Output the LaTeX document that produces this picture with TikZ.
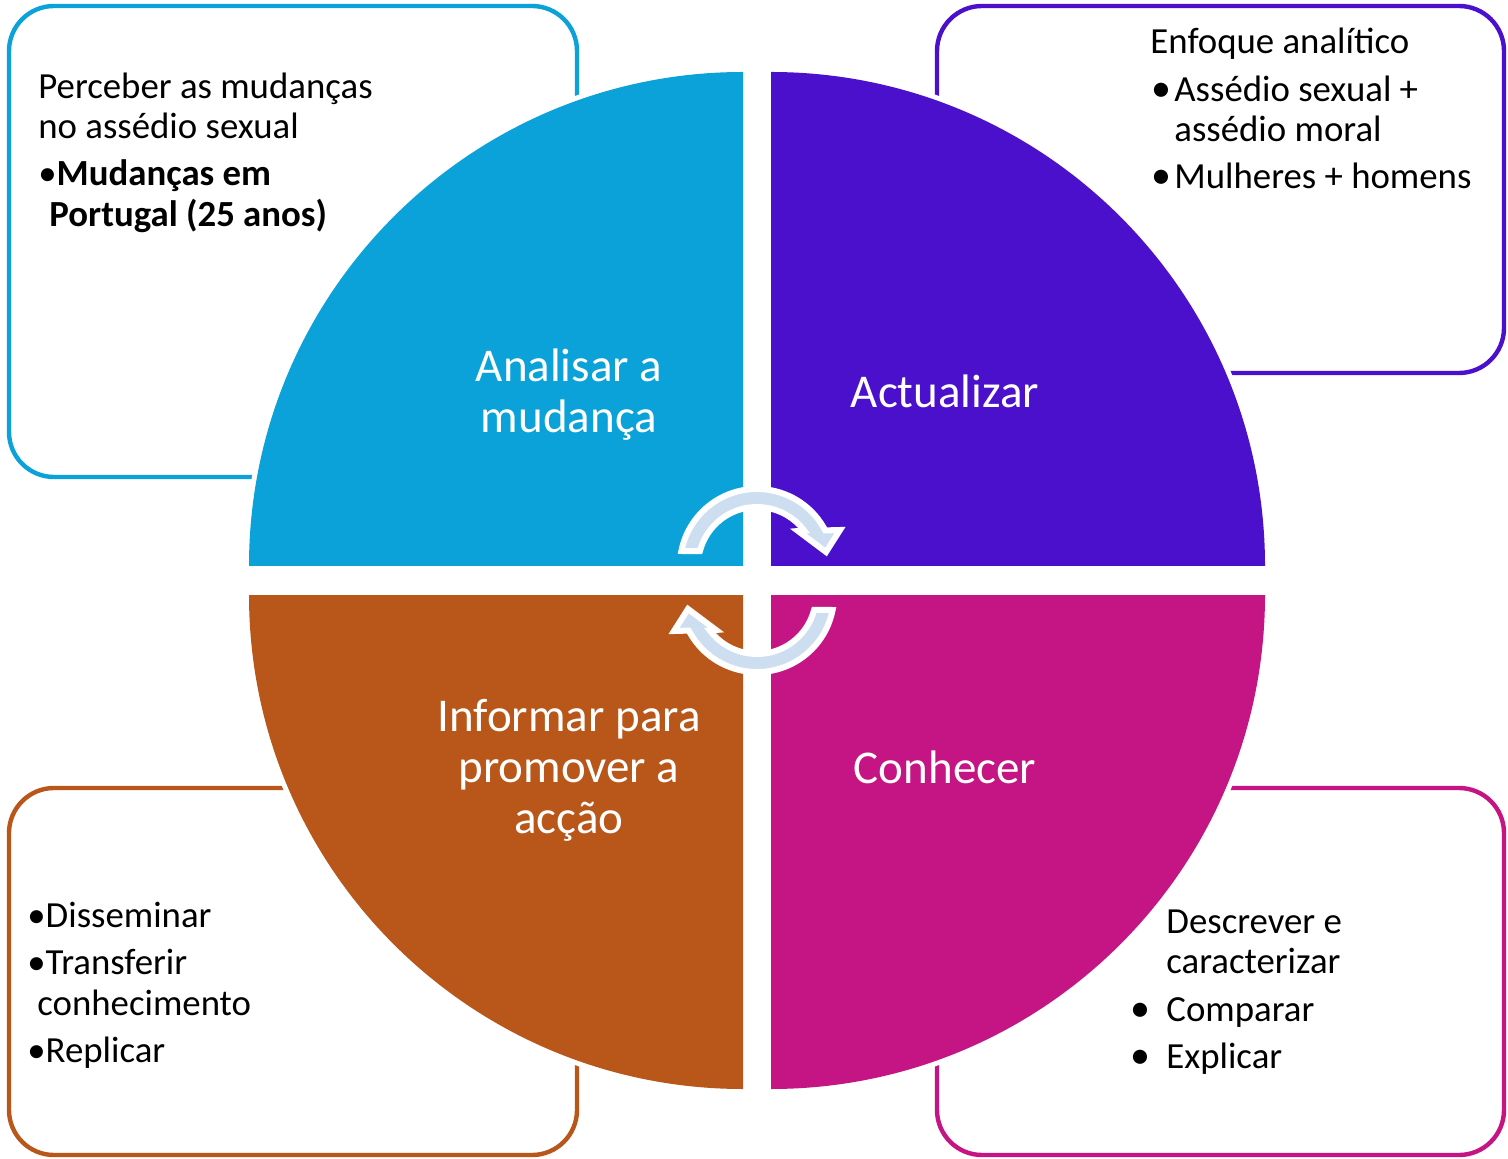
\documentclass[tikz,border=0pt]{standalone}
\usepackage{fontspec}
\setmainfont{Carlito}
\definecolor{qblue}{RGB}{10,162,216}
\definecolor{qpurple}{RGB}{74,16,204}
\definecolor{qorange}{RGB}{185,87,26}
\definecolor{qmagenta}{RGB}{197,21,132}
\definecolor{arrowfill}{RGB}{204,222,240}
\begin{document}
\begin{tikzpicture}[x=0.5pt,y=-0.5pt,
  frame/.style={line width=2.2pt, rounded corners=22.5pt},
  quad/.style={preaction={draw=white, line width=5pt}},
  arrowsty/.style={fill=arrowfill, draw=white, line width=3pt, line join=miter},
  boxtxt/.style={anchor=base west, inner sep=0pt, font=\fontsize{18.4}{20}\selectfont},
  bul/.style={anchor=base west, inner sep=0pt, font=\fontsize{20}{20}\selectfont},
  qlabel/.style={text=white, align=center, inner sep=0pt, font=\fontsize{23.5}{25.5}\selectfont}]
\useasboundingbox (0,0) rectangle (1508,1159);
\fill[white] (0,0) rectangle (1508,1159);

% outer boxes
\draw[frame, draw=qblue] (9,6) rectangle (577,477);
\draw[frame, draw=qpurple] (937,6) rectangle (1504,373);
\draw[frame, draw=qorange] (9,788) rectangle (577,1155);
\draw[frame, draw=qmagenta] (937,788) rectangle (1504,1155);

% quadrants
\fill[qblue, quad] (743,566) -- (249,566) arc[start angle=180, end angle=270, radius=494] -- cycle;
\fill[qpurple, quad] (771,566) -- (771,72) arc[start angle=270, end angle=360, radius=494] -- cycle;
\fill[qmagenta, quad] (771,595) -- (1265,595) arc[start angle=0, end angle=90, radius=494] -- cycle;
\fill[qorange, quad] (743,595) -- (743,1089) arc[start angle=90, end angle=180, radius=494] -- cycle;

% circular arrows
\draw[arrowsty] (681.4,551) arc[start angle=191.2, end angle=332.5, radius=77]
  -- (840,530) -- (826,552) -- (798,531) -- (804.1,530.5)
  arc[start angle=323, end angle=194.7, radius=59] -- cycle;
\draw[arrowsty] (832.6,610) arc[start angle=11.2, end angle=152.5, radius=77]
  -- (674,631) -- (688,609) -- (716,630) -- (709.9,630.5)
  arc[start angle=143, end angle=14.7, radius=59] -- cycle;

% quadrant labels
\node[qlabel] (lA) at (569,395) {Analisar a\\mudança};
\node[qlabel] (lB) at (945,391) {Actualizar};
\node[qlabel] (lC) at (945,767) {Conhecer};
\node[qlabel] (lD) at (569,770) {Informar para\\promover a\\acção};

% top-left box text
\node[boxtxt] (tl1) at (38,99) {Perceber as mudanças};
\node[boxtxt] (tl2) at (38,139) {no assédio sexual};
\node[boxtxt] (tl3) at (38,186) {•\textbf{Mudanças em}};
\node[boxtxt] (tl4) at (49,227) {\textbf{Portugal (25 anos)}};

% top-right box text
\node[boxtxt] (tr1) at (1150,54) {Enfoque analítico};
\node[bul] (trb1) at (1151,102) {•};
\node[boxtxt] (tr2) at (1174,102) {Assédio sexual +};
\node[boxtxt] (tr3) at (1174,142) {assédio moral};
\node[bul] (trb2) at (1151,189) {•};
\node[boxtxt] (tr4) at (1174,189) {Mulheres + homens};

% bottom-left box text
\node[boxtxt] (bl1) at (27,927) {•Disseminar};
\node[boxtxt] (bl2) at (27,974) {•Transferir};
\node[boxtxt] (bl3) at (37,1015) {conhecimento};
\node[boxtxt] (bl4) at (27,1062) {•Replicar};

% bottom-right box text
\node[boxtxt] (br1) at (1166,933) {Descrever e};
\node[boxtxt] (br2) at (1166,973) {caracterizar};
\node[bul] (brb1) at (1130,1021) {•};
\node[boxtxt] (br3) at (1166,1021) {Comparar};
\node[bul] (brb2) at (1130,1068) {•};
\node[boxtxt] (br4) at (1166,1068) {Explicar};
\end{tikzpicture}
\end{document}
